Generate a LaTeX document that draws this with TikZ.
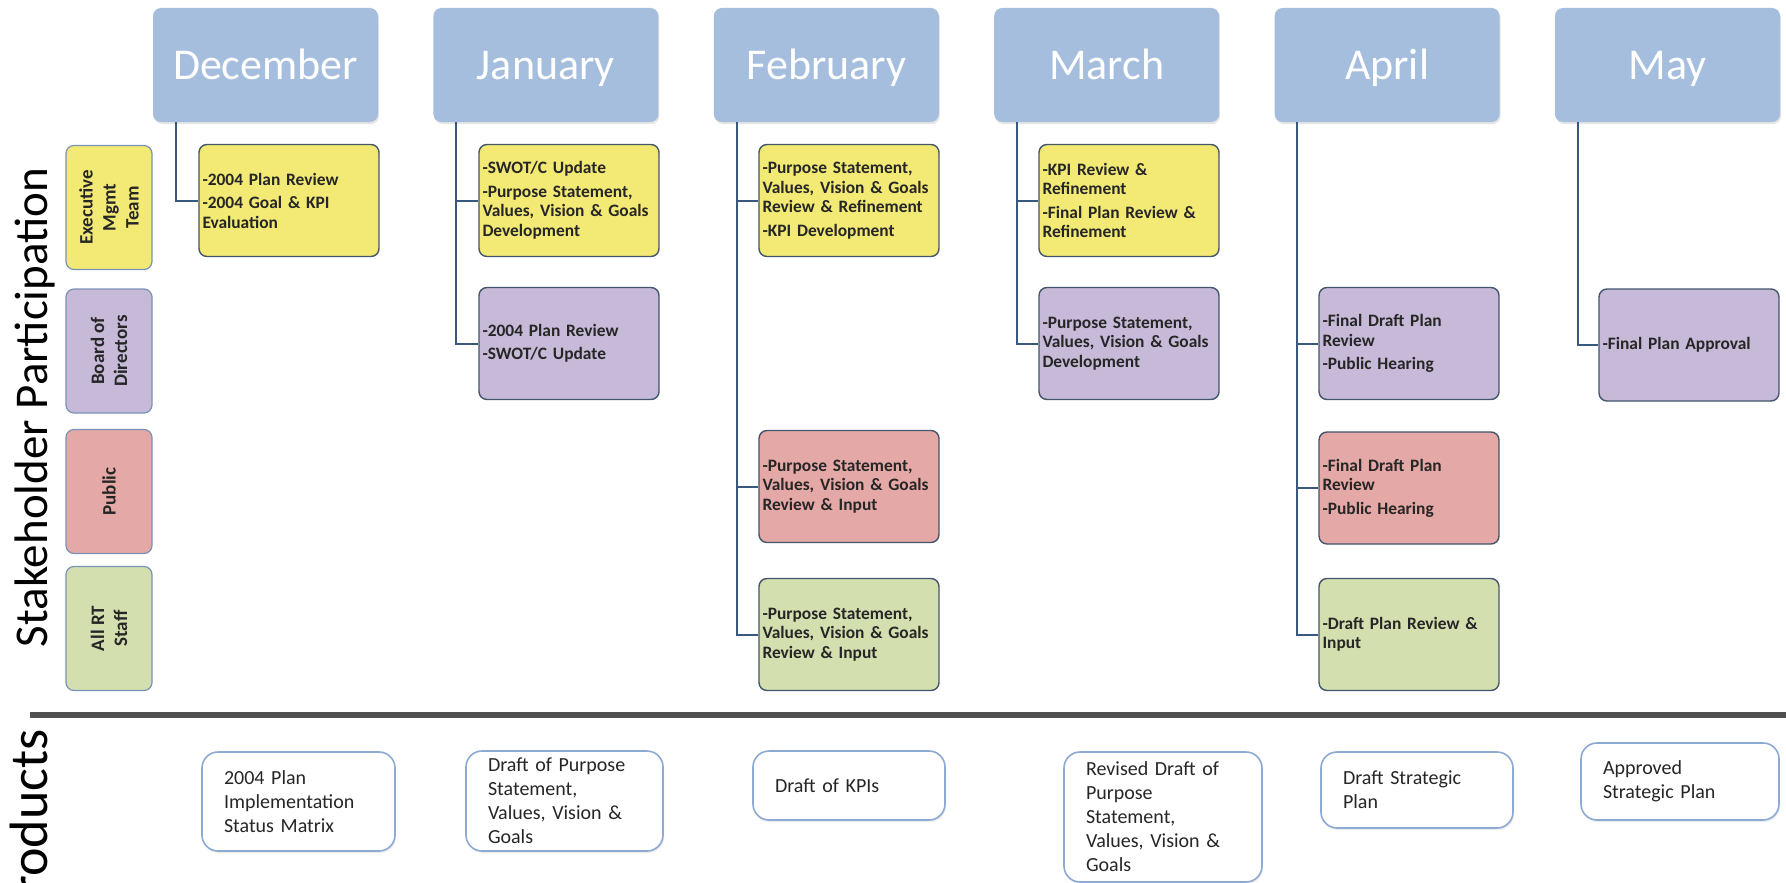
\documentclass[tikz,border=0pt]{standalone}
\usepackage{fontspec}
\setmainfont{Carlito}
\usetikzlibrary{positioning, shadows}

\definecolor{monthblue}{HTML}{A5BEDE}
\definecolor{execyellow}{HTML}{F2EA74}
\definecolor{boardpurple}{HTML}{C6BAD8}
\definecolor{publicred}{HTML}{E4A9A6}
\definecolor{staffgreen}{HTML}{D4DFAF}
\definecolor{taskedge}{HTML}{44566B}
\definecolor{groupedge}{HTML}{7892B8}
\definecolor{productedge}{HTML}{8DAAD5}
\definecolor{linkblue}{HTML}{38587F}
\definecolor{rulegray}{HTML}{505050}

\begin{document}
\begin{tikzpicture}[x=1pt, y=-1pt,
  month/.style={rectangle, rounded corners=8pt, fill=monthblue, text=white,
                minimum width=225pt, minimum height=114pt, text height=35pt, text depth=5pt,
                font=\fontsize{44}{50}\selectfont,
                drop shadow={opacity=0.2, shadow xshift=1pt, shadow yshift=-2pt}},
  task/.style={rectangle, rounded corners=8pt, draw=taskedge, line width=1.4pt,
               minimum width=180pt, minimum height=112pt, text width=173pt, inner xsep=3.5pt,
               align=left, text=black!85, font=\bfseries\fontsize{17.4}{19.5}\selectfont},
  group/.style={rectangle, rounded corners=8pt, draw=groupedge, line width=1.2pt, rotate=90,
                minimum width=124pt, minimum height=86pt, align=center, text=black!85,
                font=\bfseries\fontsize{19}{23}\selectfont},
  product/.style={rectangle, rounded corners=16pt, draw=productedge, line width=1.6pt, fill=white,
                  inner xsep=22pt, inner ysep=0pt, align=left, text=black!85,
                  font=\fontsize{20}{24}\selectfont,
                  drop shadow={opacity=0.15, shadow xshift=1pt, shadow yshift=-2pt}},
  link/.style={linkblue, line width=2pt},
  side/.style={rotate=90, anchor=base, font=\fontsize{47}{50}\selectfont}
]
\useasboundingbox (0,0) rectangle (1786,883);
\fill[white] (0,0) rectangle (1786,883);

% months
\node[month] (mDec) at (265.5,65) {December};
\node[month, right=55pt of mDec] (mJan) {January};
\node[month, right=55pt of mJan] (mFeb) {February};
\node[month, right=55pt of mFeb] (mMar) {March};
\node[month, right=55pt of mMar] (mApr) {April};
\node[month, right=55pt of mApr] (mMay) {May};

% stakeholder groups
\node[side] (stakeLbl) at (47,407.5) {Stakeholder Participation};
\node[group, fill=execyellow]  (gExec)   at (109,207.5) {Executive\\Mgmt\\Team};
\node[group, fill=boardpurple] (gBoard)  at (109,351)   {Board of\\Directors};
\node[group, fill=publicred]   (gPublic) at (109,491.5) {Public};
\node[group, fill=staffgreen]  (gStaff)  at (109,628.5) {All RT\\Staff};

% tasks
\node[task, fill=execyellow] (decExec) at (289,200.5)
  {-2004 Plan Review\\[4pt]-2004 Goal \& KPI\\Evaluation};
\node[task, fill=execyellow] (janExec) at (569,200.5)
  {-SWOT/C Update\\[4pt]-Purpose Statement,\\Values, Vision \& Goals\\Development};
\node[task, fill=boardpurple] (janBoard) at (569,343.5)
  {-2004 Plan Review\\[4pt]-SWOT/C Update};
\node[task, fill=execyellow] (febExec) at (849,200.5)
  {-Purpose Statement,\\Values, Vision \& Goals\\Review \& Refinement\\[4pt]-KPI Development};
\node[task, fill=publicred] (febPublic) at (849,486.5)
  {-Purpose Statement,\\Values, Vision \& Goals\\Review \& Input};
\node[task, fill=staffgreen] (febStaff) at (849,634.5)
  {-Purpose Statement,\\Values, Vision \& Goals\\Review \& Input};
\node[task, fill=execyellow] (marExec) at (1129,200.5)
  {-KPI Review \&\\Refinement\\[4pt]-Final Plan Review \&\\Refinement};
\node[task, fill=boardpurple] (marBoard) at (1129,343.5)
  {-Purpose Statement,\\Values, Vision \& Goals\\Development};
\node[task, fill=boardpurple] (aprBoard) at (1409,343.5)
  {-Final Draft Plan\\Review\\[4pt]-Public Hearing};
\node[task, fill=publicred] (aprPublic) at (1409,488)
  {-Final Draft Plan\\Review\\[4pt]-Public Hearing};
\node[task, fill=staffgreen] (aprStaff) at (1409,634.5)
  {-Draft Plan Review \&\\Input};
\node[task, fill=boardpurple] (mayBoard) at (1689,345)
  {-Final Plan Approval};

% month to task links
\foreach \m/\t in {mDec/decExec, mJan/janExec, mJan/janBoard,
                   mFeb/febExec, mFeb/febPublic, mFeb/febStaff,
                   mMar/marExec, mMar/marBoard,
                   mApr/aprBoard, mApr/aprPublic, mApr/aprStaff, mMay/mayBoard}
  \draw[link] ([xshift=23pt]\m.south west) |- (\t.west);

% divider
\draw[line width=6pt, rulegray] (30,715) -- (1786,715);

% products
\node[side, font=\fontsize{54}{58}\selectfont] (prodLbl) at (47,826) {Products};
\node[product, text width=149pt, minimum height=99pt] (pDec) at (298.5,801.5)
  {2004 Plan\\Implementation\\Status Matrix};
\node[product, text width=153pt, minimum height=100pt] (pJan) at (564.5,801)
  {Draft of Purpose\\Statement,\\Values, Vision \&\\Goals};
\node[product, text width=148pt, minimum height=69pt] (pFeb) at (849,785.5)
  {Draft of KPIs};
\node[product, text width=154pt, minimum height=130pt] (pMar) at (1163,817)
  {Revised Draft of\\Purpose\\Statement,\\Values, Vision \&\\Goals};
\node[product, text width=148pt, minimum height=76pt] (pApr) at (1417,790)
  {Draft Strategic\\Plan};
\node[product, text width=154pt, minimum height=77pt] (pMay) at (1680,781.5)
  {Approved\\Strategic Plan};
\end{tikzpicture}
\end{document}
